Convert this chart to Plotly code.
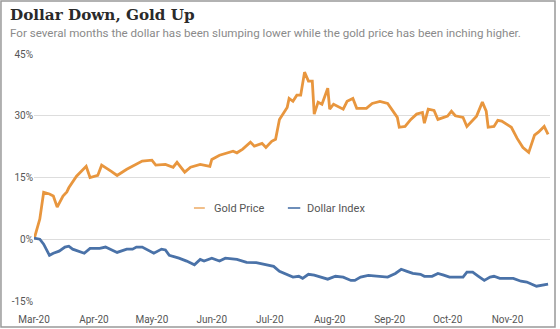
import plotly.graph_objects as go

gold_dates = ["2020-03-01","2020-03-04","2020-03-06","2020-03-09","2020-03-11","2020-03-13","2020-03-16","2020-03-18","2020-03-19","2020-03-22","2020-03-23","2020-03-28","2020-03-30","2020-04-03","2020-04-05","2020-04-10","2020-04-13","2020-04-18","2020-04-26","2020-05-01","2020-05-03","2020-05-08","2020-05-12","2020-05-14","2020-05-18","2020-05-21","2020-05-24","2020-05-26","2020-05-31","2020-06-01","2020-06-05","2020-06-09","2020-06-12","2020-06-14","2020-06-17","2020-06-21","2020-06-23","2020-06-27","2020-06-29","2020-07-02","2020-07-04","2020-07-06","2020-07-10","2020-07-11","2020-07-13","2020-07-15","2020-07-17","2020-07-19","2020-07-21","2020-07-23","2020-07-24","2020-07-26","2020-07-28","2020-07-31","2020-08-01","2020-08-03","2020-08-08","2020-08-10","2020-08-13","2020-08-15","2020-08-20","2020-08-23","2020-08-27","2020-08-31","2020-09-03","2020-09-05","2020-09-06","2020-09-09","2020-09-12","2020-09-15","2020-09-18","2020-09-19","2020-09-21","2020-09-24","2020-09-26","2020-10-01","2020-10-03","2020-10-05","2020-10-09","2020-10-11","2020-10-16","2020-10-19","2020-10-21","2020-10-22","2020-10-25","2020-10-27","2020-10-29","2020-11-03","2020-11-06","2020-11-08","2020-11-09","2020-11-12","2020-11-15","2020-11-17","2020-11-20","2020-11-22"]
gold_values = [0, 4.9, 11.4, 11.0, 10.5, 7.8, 10.5, 11.5, 12.5, 14.5, 15.3, 17.7, 15.0, 15.5, 18.0, 16.5, 15.5, 17.0, 19.0, 19.2, 18.0, 18.2, 17.5, 18.7, 16.3, 17.5, 18.0, 18.2, 17.7, 19.4, 20.4, 20.9, 21.4, 21.0, 21.9, 23.6, 22.6, 23.3, 22.3, 23.8, 24.3, 29.1, 32.0, 34.2, 33.5, 35.0, 35.0, 40.6, 38.4, 38.4, 30.4, 33.3, 32.8, 36.7, 31.6, 32.8, 31.6, 33.5, 34.2, 31.8, 31.8, 33.0, 33.5, 33.0, 30.8, 29.6, 27.2, 27.4, 29.1, 30.4, 30.8, 28.2, 31.6, 31.3, 29.1, 29.9, 31.1, 30.0, 29.6, 27.4, 29.9, 33.3, 31.1, 27.2, 27.4, 28.9, 28.7, 27.2, 24.5, 23.1, 22.3, 21.1, 25.3, 26.0, 27.4, 25.5]

dollar_dates = ["2020-03-01","2020-03-04","2020-03-06","2020-03-09","2020-03-11","2020-03-14","2020-03-17","2020-03-19","2020-03-21","2020-03-24","2020-03-27","2020-03-30","2020-04-04","2020-04-07","2020-04-13","2020-04-18","2020-04-21","2020-04-23","2020-04-26","2020-05-02","2020-05-06","2020-05-08","2020-05-10","2020-05-15","2020-05-19","2020-05-23","2020-05-26","2020-05-28","2020-06-01","2020-06-05","2020-06-08","2020-06-14","2020-06-19","2020-06-24","2020-06-29","2020-07-03","2020-07-06","2020-07-10","2020-07-13","2020-07-16","2020-07-18","2020-07-21","2020-07-24","2020-07-31","2020-08-04","2020-08-08","2020-08-12","2020-08-14","2020-08-17","2020-08-21","2020-08-26","2020-08-29","2020-08-31","2020-09-04","2020-09-07","2020-09-10","2020-09-13","2020-09-17","2020-09-19","2020-09-23","2020-09-26","2020-09-29","2020-10-02","2020-10-06","2020-10-09","2020-10-11","2020-10-14","2020-10-17","2020-10-20","2020-10-23","2020-10-25","2020-10-28","2020-11-01","2020-11-04","2020-11-08","2020-11-11","2020-11-16","2020-11-19","2020-11-22"]
dollar_values = [0.3, 0, -1.2, -3.9, -3.4, -2.9, -1.9, -1.7, -2.4, -2.9, -3.4, -2.2, -2.2, -1.9, -3.2, -2.4, -2.4, -1.9, -1.9, -3.4, -2.4, -2.6, -3.9, -4.6, -5.3, -6.2, -4.9, -5.3, -4.6, -5.3, -4.6, -4.9, -5.6, -5.7, -6.3, -6.6, -7.8, -8.5, -9.2, -9.0, -9.5, -8.5, -8.7, -9.7, -9.0, -9.2, -10.0, -10.0, -9.2, -8.8, -9.0, -9.0, -9.2, -8.3, -7.3, -7.8, -8.3, -8.5, -9.0, -9.0, -8.3, -8.7, -9.2, -9.2, -9.2, -8.0, -8.0, -9.0, -10.0, -9.2, -9.0, -9.5, -9.5, -9.5, -10.2, -10.4, -11.4, -11.2, -10.9]

series_names = ["Gold Price", "Dollar Index"]
y_tickvals = [-15, 0, 15, 30, 45]
y_ticktext = ["-15%", "0%", "15%", "30%", "45%"]

GOLD = "#E8963E"
BLUE = "#4A72A8"

fig = go.Figure()
fig.add_trace(go.Scatter(x=gold_dates, y=gold_values, mode="lines", name=series_names[0],
                         line=dict(color=GOLD, width=2.8), showlegend=False))
fig.add_trace(go.Scatter(x=dollar_dates, y=dollar_values, mode="lines", name=series_names[1],
                         line=dict(color=BLUE, width=2.8), showlegend=False))

fig.update_layout(
    width=560, height=329,
    margin=dict(l=34, r=10, t=54, b=28),
    paper_bgcolor="white", plot_bgcolor="white",
    font=dict(family="Roboto", size=10, color="#555"),
    xaxis=dict(range=["2020-03-01", "2020-11-23"], tickformat="%b-%y", dtick="M1",
               tick0="2020-03-01", showgrid=False, zeroline=False, showline=False,
               ticks="outside", ticklen=9, tickcolor="rgba(0,0,0,0)", automargin=False,
               tickfont=dict(size=10, color="#555")),
    yaxis=dict(range=[-15, 45], tickvals=y_tickvals, ticktext=y_ticktext,
               showgrid=True, gridcolor="#DDDDDD", gridwidth=1, zeroline=False,
               ticks="", automargin=False, tickfont=dict(size=10, color="#555")),
    annotations=[
        dict(text="<b>Dollar Down, Gold Up</b>", xref="paper", yref="paper",
             x=-0.0504, y=1.158, xanchor="left", yanchor="middle", showarrow=False,
             font=dict(family="DejaVu Serif", size=15.2, color="#2a2a2a")),
        dict(text="For several months the dollar has been slumping lower while the gold price has been inching higher.",
             xref="paper", yref="paper", x=-0.0504, y=1.085, xanchor="left", yanchor="middle",
             showarrow=False, font=dict(family="Roboto", size=11.6, color="#8a8a8a")),
        dict(text=series_names[0], xref="paper", yref="paper", x=0.345, y=0.3765,
             xanchor="left", yanchor="middle", showarrow=False,
             font=dict(family="Roboto", size=11, color="#555")),
        dict(text=series_names[1], xref="paper", yref="paper", x=0.525, y=0.3765,
             xanchor="left", yanchor="middle", showarrow=False,
             font=dict(family="Roboto", size=11, color="#555")),
    ],
    shapes=[
        dict(type="line", xref="paper", yref="paper", x0=0.310, x1=0.331, y0=0.3765, y1=0.3765,
             line=dict(color=GOLD, width=2), opacity=0.6),
        dict(type="line", xref="paper", yref="paper", x0=0.492, x1=0.516, y0=0.3765, y1=0.3765,
             line=dict(color=BLUE, width=2), opacity=0.8),
        dict(type="rect", xref="paper", yref="paper", x0=-0.064, x1=1.0097, y0=-0.105, y1=1.2146,
             line=dict(color="#999", width=1.5)),
    ],
)

fig.write_html("out.html")
